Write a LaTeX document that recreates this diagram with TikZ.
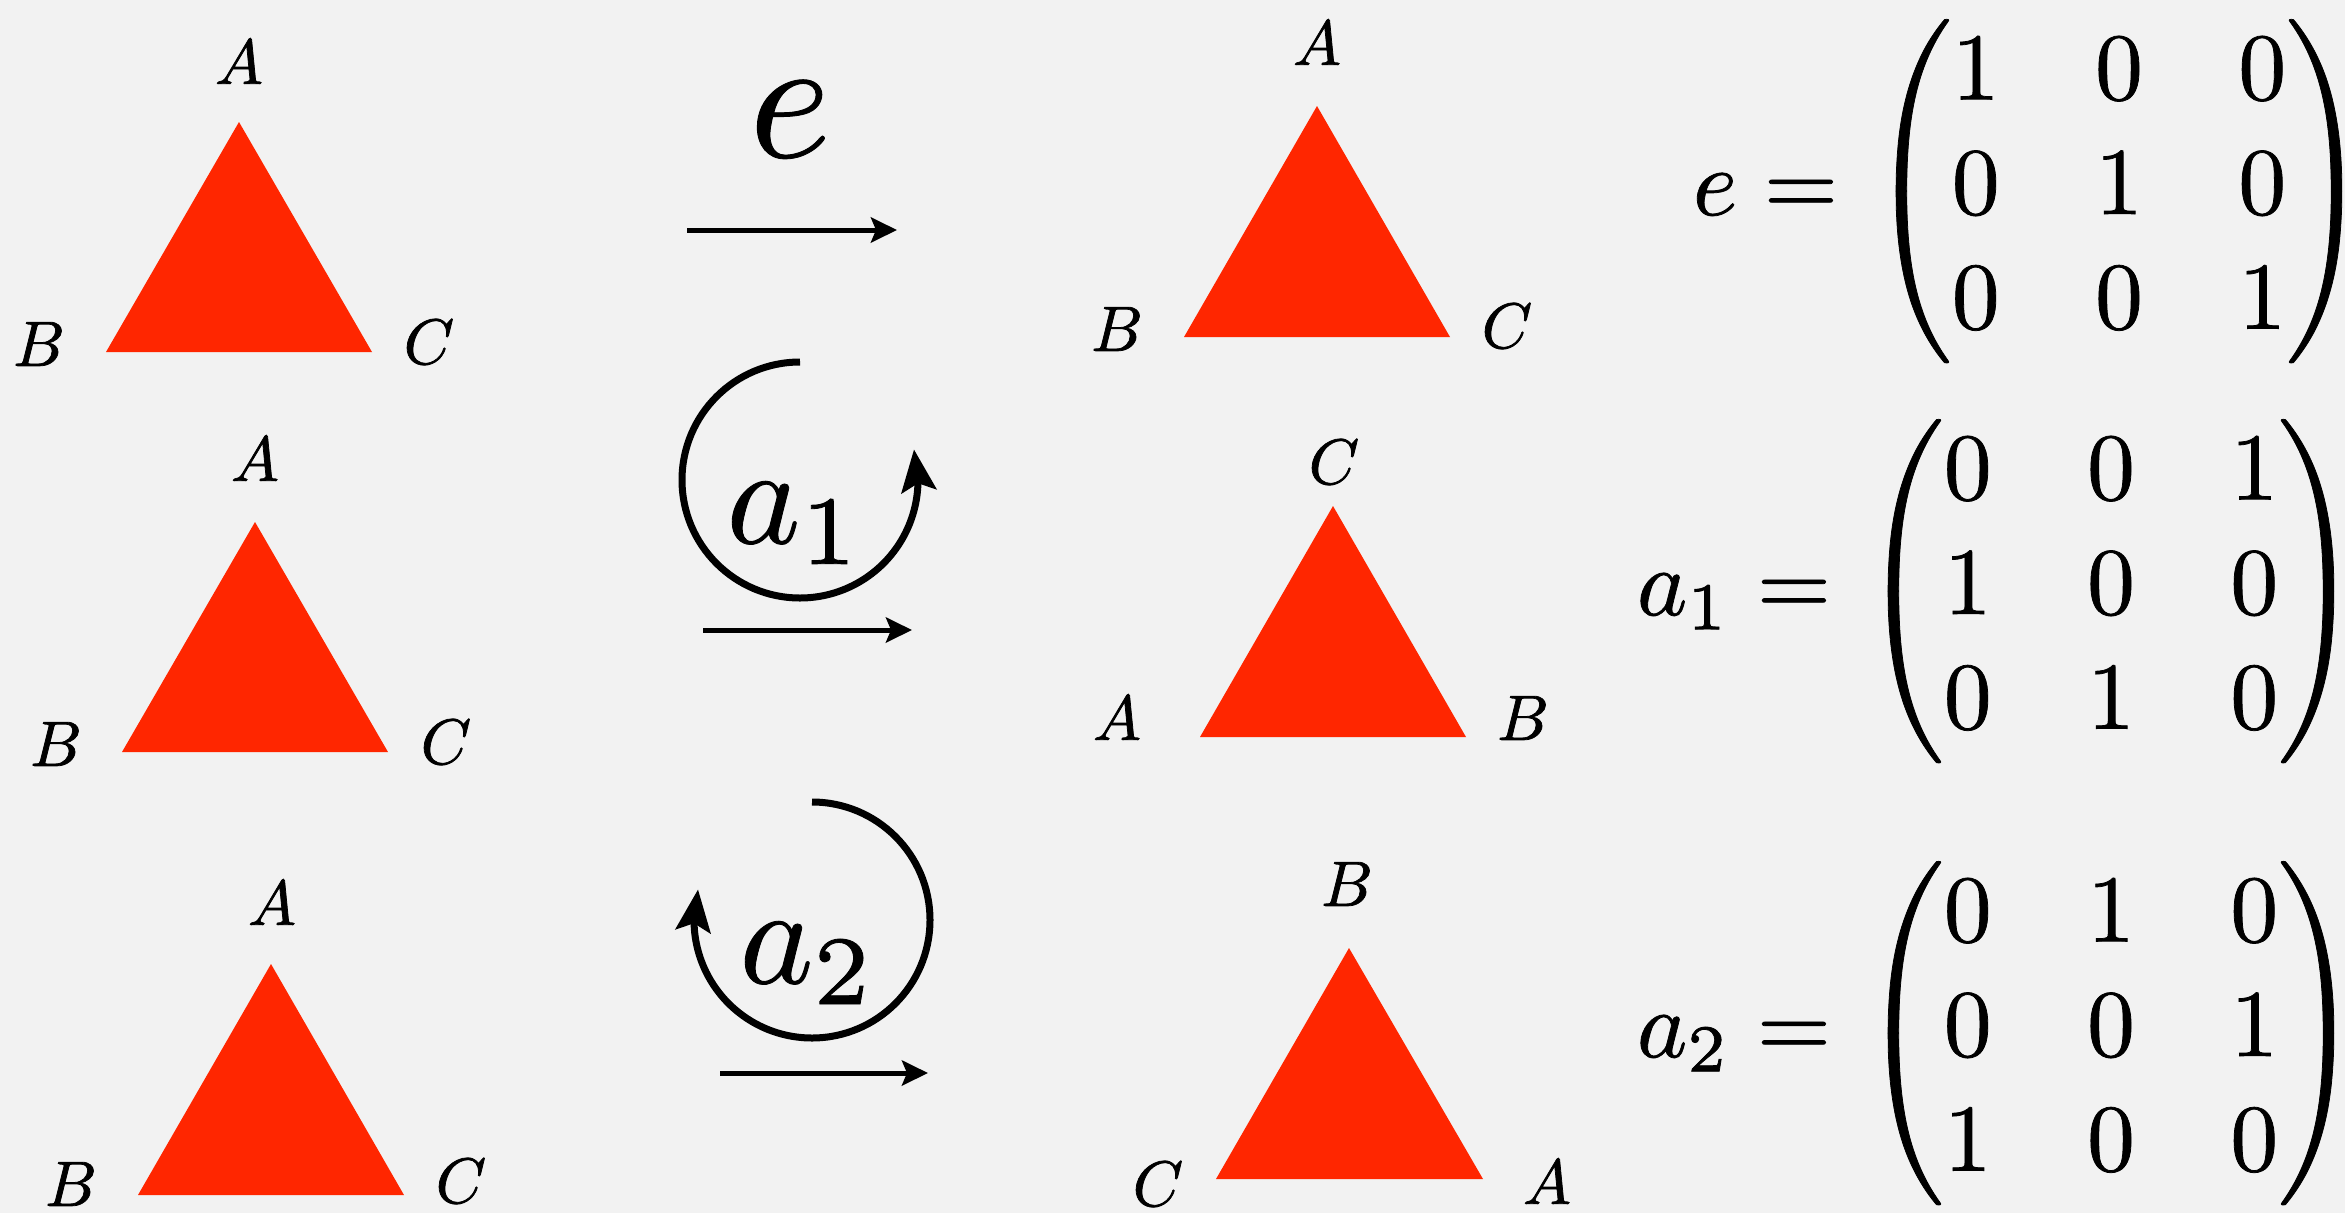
\documentclass[tikz,border=0pt]{standalone}
\usepackage{amsmath}
\usetikzlibrary{arrows.meta,bending}
\definecolor{bgc}{RGB}{242,242,242}
\definecolor{tri}{RGB}{255,38,0}
\newcommand{\heavytext}[2]{\special{pdf:code 2 Tr #1 w}#2\special{pdf:code 0 Tr}}
\tikzset{
  vlabel/.style={scale=6.4, inner sep=0pt},
  opname/.style={scale=14, inner sep=0pt, anchor=base},
  mapto/.style={line width=5pt, -{Stealth[length=26pt,width=25pt,inset=5pt]}},
  rotarrow/.style={line width=7pt, -{Stealth[length=42pt,width=35pt,inset=8pt,flex]}},
  triang/.style={fill=tri},
  matnode/.style={scale=9.55, inner sep=0pt, anchor=base},
  lhsnode/.style={scale=9.55, inner sep=0pt, anchor=base east},
}
\begin{document}
\begin{tikzpicture}[x=1pt,y=1pt]
\fill[bgc] (0,0) rectangle (2345,-1213);
\useasboundingbox (0,0) rectangle (2345,-1213);

% ---------- left column triangles ----------
\fill[triang] (239,-122) -- (106,-352) -- (372,-352) -- cycle;
\node[vlabel] (t1a) at (239,-62) {\heavytext{0.12}{$A$}};
\node[vlabel] (t1b) at (39,-344) {\heavytext{0.12}{$B$}};
\node[vlabel] (t1c) at (429,-342) {\heavytext{0.12}{$C$}};

\fill[triang] (255,-522) -- (122,-752) -- (388,-752) -- cycle;
\node[vlabel] (t2a) at (255,-459) {\heavytext{0.12}{$A$}};
\node[vlabel] (t2b) at (56,-744) {\heavytext{0.12}{$B$}};
\node[vlabel] (t2c) at (446,-742) {\heavytext{0.12}{$C$}};

\fill[triang] (271,-964) -- (138,-1195) -- (404,-1195) -- cycle;
\node[vlabel] (t3a) at (272,-903) {\heavytext{0.12}{$A$}};
\node[vlabel] (t3b) at (71,-1184) {\heavytext{0.12}{$B$}};
\node[vlabel] (t3c) at (461,-1181) {\heavytext{0.12}{$C$}};

% ---------- right column triangles ----------
\fill[triang] (1317,-106) -- (1184,-337) -- (1450,-337) -- cycle;
\node[vlabel] (t4a) at (1317,-43) {\heavytext{0.12}{$A$}};
\node[vlabel] (t4b) at (1117,-329) {\heavytext{0.12}{$B$}};
\node[vlabel] (t4c) at (1507,-326) {\heavytext{0.12}{$C$}};

\fill[triang] (1333,-506) -- (1200,-737) -- (1466,-737) -- cycle;
\node[vlabel] (t5c) at (1334,-462) {\heavytext{0.12}{$C$}};
\node[vlabel] (t5a) at (1117,-718) {\heavytext{0.12}{$A$}};
\node[vlabel] (t5b) at (1523,-718) {\heavytext{0.12}{$B$}};

\fill[triang] (1349,-948) -- (1216,-1179) -- (1483,-1179) -- cycle;
\node[vlabel] (t6b) at (1347,-884) {\heavytext{0.12}{$B$}};
\node[vlabel] (t6c) at (1158,-1184) {\heavytext{0.12}{$C$}};
\node[vlabel] (t6a) at (1547,-1182) {\heavytext{0.12}{$A$}};

% ---------- operation arrows ----------
\node[scale=17.5, inner sep=0pt, anchor=base] (le) at (790,-157) {\heavytext{0.05}{$e$}};
\coordinate (e0) at (687,-230);
\coordinate (e1) at (897,-230);
\draw[mapto] (e0) -- (e1);

\node[opname] (la1) at (795,-543) {\heavytext{0.06}{$a_1$}};
\coordinate (c1) at (800,-480);
\draw[rotarrow] ([shift={(90:118)}]c1) arc[start angle=90, end angle=375, radius=118];
\coordinate (p0) at (703,-630);
\coordinate (p1) at (912,-630);
\draw[mapto] (p0) -- (p1);

\node[opname] (la2) at (808,-983) {\heavytext{0.06}{$a_2$}};
\coordinate (c2) at (812,-920);
\draw[rotarrow] ([shift={(90:118)}]c2) arc[start angle=90, end angle=-195, radius=118];
\coordinate (q0) at (720,-1073);
\coordinate (q1) at (928,-1073);
\draw[mapto] (q0) -- (q1);

% ---------- matrices ----------
\node[lhsnode] (eqe) at (1840,-215) {\heavytext{0.08}{$e=$}};
\node[matnode] (me) at (2119,-215) {\heavytext{0.08}{$\begin{pmatrix}1&0&0\\0&1&0\\0&0&1\end{pmatrix}$}};

\node[lhsnode] (eqa1) at (1833,-615) {\heavytext{0.08}{$a_1=$}};
\node[matnode] (ma1) at (2111,-615) {\heavytext{0.08}{$\begin{pmatrix}0&0&1\\1&0&0\\0&1&0\end{pmatrix}$}};

\node[lhsnode] (eqa2) at (1833,-1057) {\heavytext{0.08}{$a_2=$}};
\node[matnode] (ma2) at (2111,-1057) {\heavytext{0.08}{$\begin{pmatrix}0&1&0\\0&0&1\\1&0&0\end{pmatrix}$}};
\end{tikzpicture}
\end{document}
